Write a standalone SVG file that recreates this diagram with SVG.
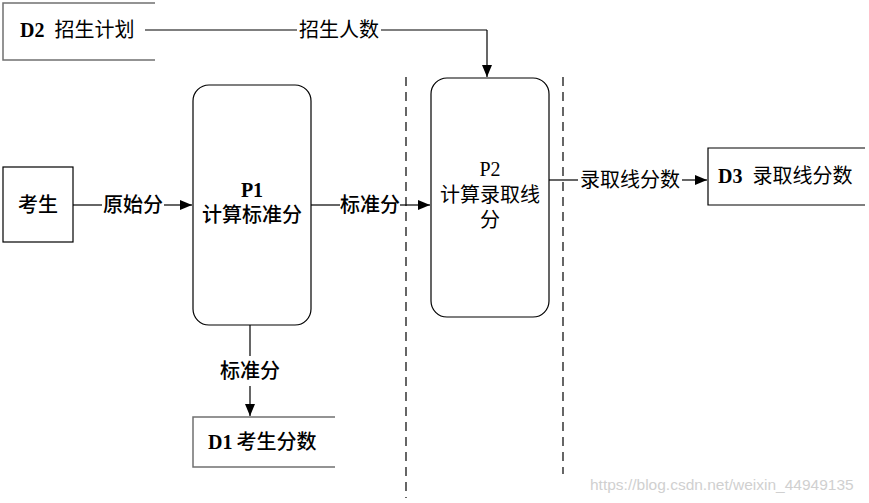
<svg xmlns="http://www.w3.org/2000/svg" width="869" height="503" viewBox="0 0 869 503">
<defs>
<marker id="arr" viewBox="0 0 12 10" refX="12" refY="5" markerWidth="12" markerHeight="10" markerUnits="userSpaceOnUse" orient="auto"><path d="M0,0 L12,5 L0,10 z" fill="#000"/></marker>
<style>
text{font-family:"Liberation Serif","Noto Sans CJK SC",serif;font-size:20px;fill:#000}
.b{font-weight:bold}
.m{font-weight:500}
.store{fill:none;stroke:#707070;stroke-width:1.5}
.proc{fill:#fff;stroke:#000;stroke-width:1.2}
.ent{fill:#fff;stroke:#000;stroke-width:1.2}
.flow{fill:none;stroke:#000;stroke-width:1.2}
.dash{fill:none;stroke:#000;stroke-width:1.2;stroke-dasharray:9,6}
.wm{font-family:"Liberation Sans",sans-serif;font-size:15.5px;fill:#d0d0d0}
</style>
</defs>
<rect width="869" height="503" fill="#fff"/>
<g id="boundaries">
<line class="dash" x1="406" y1="77" x2="406" y2="498"/>
<line class="dash" x1="563" y1="77" x2="563" y2="474"/>
</g>
<g id="connectors">
<path class="flow" d="M145,30 H297 M381,30 H487"/>
<path class="flow" d="M487,30 V77" marker-end="url(#arr)"/>
<text x="339" y="37" text-anchor="middle">招生人数</text>
<path class="flow" d="M73,205 H102"/>
<path class="flow" d="M164,205 H192" marker-end="url(#arr)"/>
<text x="133" y="212" text-anchor="middle" class="m">原始分</text>
<path class="flow" d="M311,205 H340"/>
<path class="flow" d="M400,205 H430" marker-end="url(#arr)"/>
<text x="370" y="212" text-anchor="middle" class="m">标准分</text>
<path class="flow" d="M549,180 H578"/>
<path class="flow" d="M682,180 H707" marker-end="url(#arr)"/>
<text x="630" y="187" text-anchor="middle">录取线分数</text>
<path class="flow" d="M250,325 V356"/>
<path class="flow" d="M250,386 V416" marker-end="url(#arr)"/>
<text x="250" y="378" text-anchor="middle" class="m">标准分</text>
</g>
<g id="D2">
<path class="store" d="M155,3 H3 V60 H155"/>
<text x="20" y="37"><tspan class="b">D2</tspan><tspan dx="10">招生计划</tspan></text>
</g>
<g id="kaosheng">
<rect class="ent" x="3" y="167" width="70" height="75"/>
<text x="38" y="212" text-anchor="middle" class="m">考生</text>
</g>
<g id="P1">
<rect class="proc" x="193" y="85" width="118" height="240" rx="16" ry="16"/>
<text x="252" y="197" text-anchor="middle" class="b">P1</text>
<text x="252" y="222" text-anchor="middle" class="m">计算标准分</text>
</g>
<g id="P2">
<rect class="proc" x="431" y="78" width="118" height="239" rx="16" ry="16"/>
<text x="490" y="176" text-anchor="middle">P2</text>
<text x="490" y="202" text-anchor="middle">计算录取线</text>
<text x="490" y="227" text-anchor="middle">分</text>
</g>
<g id="D3">
<path class="store" d="M865,148 H708 V205 H865" style="stroke:#000;stroke-width:1.2"/>
<text x="718" y="183"><tspan class="b">D3</tspan><tspan dx="10">录取线分数</tspan></text>
</g>
<g id="D1">
<path class="store" d="M335,417 H193 V467 H335"/>
<text x="208" y="449"><tspan class="b">D1</tspan><tspan dx="4" class="m">考生分数</tspan></text>
</g>
<text class="wm" x="590" y="490">https://blog.csdn.net/weixin_44949135</text>
</svg>
